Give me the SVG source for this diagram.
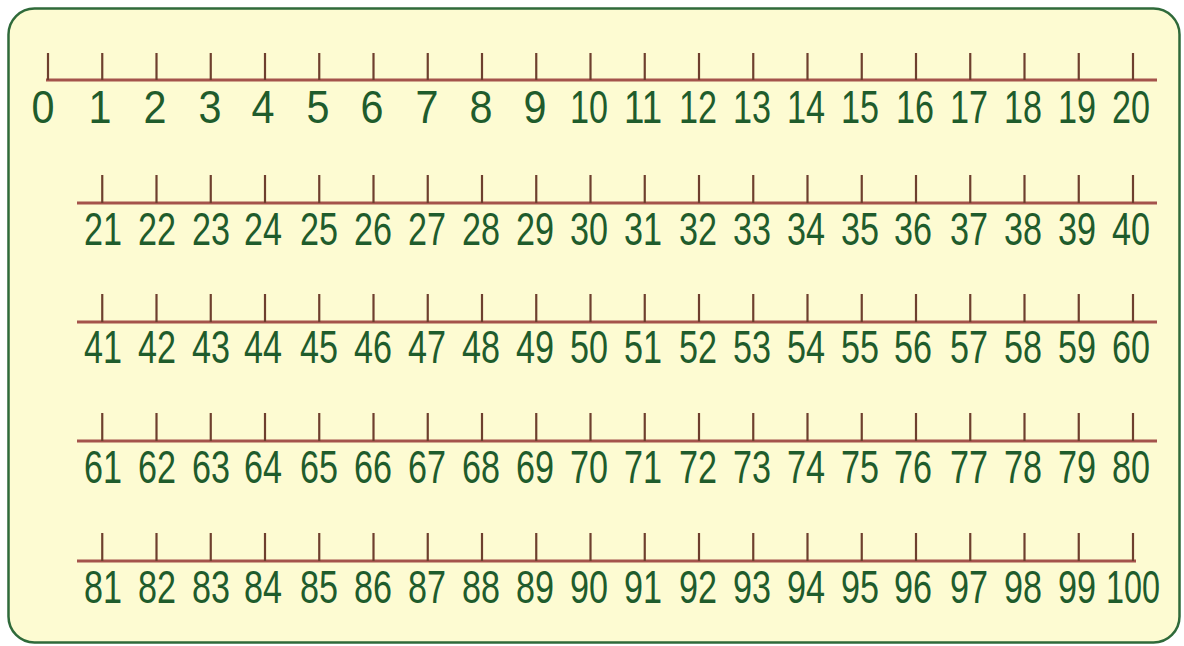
<svg xmlns="http://www.w3.org/2000/svg" width="1184" height="646" viewBox="0 0 1184 646">
<style>
.ax{stroke:#a4534b;stroke-width:3;fill:none}
.tk{stroke:#6e3f2e;stroke-width:2.2}
.n{font-family:"Liberation Sans",Arial,sans-serif;font-size:46px;fill:#1f5c2c;text-anchor:middle}
</style>
<rect x="0" y="0" width="1184" height="646" fill="#ffffff"/>
<rect x="8.5" y="8.5" width="1171" height="634" rx="26" ry="26" fill="#fdfbd2" stroke="#2f6a3a" stroke-width="2.5"/>
<g id="row1">
<line class="ax" x1="46" y1="80" x2="1157" y2="80"/>
<g class="tk">
<line x1="48" y1="53" x2="48" y2="80"/><line x1="102.25" y1="53" x2="102.25" y2="80"/><line x1="156.5" y1="53" x2="156.5" y2="80"/><line x1="210.75" y1="53" x2="210.75" y2="80"/><line x1="265" y1="53" x2="265" y2="80"/><line x1="319.25" y1="53" x2="319.25" y2="80"/><line x1="373.5" y1="53" x2="373.5" y2="80"/><line x1="427.75" y1="53" x2="427.75" y2="80"/><line x1="482" y1="53" x2="482" y2="80"/><line x1="536.25" y1="53" x2="536.25" y2="80"/><line x1="590.5" y1="53" x2="590.5" y2="80"/><line x1="644.75" y1="53" x2="644.75" y2="80"/><line x1="699" y1="53" x2="699" y2="80"/><line x1="753.25" y1="53" x2="753.25" y2="80"/><line x1="807.5" y1="53" x2="807.5" y2="80"/><line x1="861.75" y1="53" x2="861.75" y2="80"/><line x1="916" y1="53" x2="916" y2="80"/><line x1="970.25" y1="53" x2="970.25" y2="80"/><line x1="1024.5" y1="53" x2="1024.5" y2="80"/><line x1="1078.75" y1="53" x2="1078.75" y2="80"/><line x1="1133" y1="53" x2="1133" y2="80"/>
</g>
<g class="n">
<text x="43" y="123" textLength="23" lengthAdjust="spacingAndGlyphs">0</text>
<text x="100" y="123" textLength="23" lengthAdjust="spacingAndGlyphs">1</text>
<text x="155" y="123" textLength="23" lengthAdjust="spacingAndGlyphs">2</text>
<text x="210" y="123" textLength="23" lengthAdjust="spacingAndGlyphs">3</text>
<text x="263" y="123" textLength="23" lengthAdjust="spacingAndGlyphs">4</text>
<text x="318" y="123" textLength="23" lengthAdjust="spacingAndGlyphs">5</text>
<text x="372" y="123" textLength="23" lengthAdjust="spacingAndGlyphs">6</text>
<text x="427" y="123" textLength="23" lengthAdjust="spacingAndGlyphs">7</text>
<text x="481" y="123" textLength="23" lengthAdjust="spacingAndGlyphs">8</text>
<text x="535" y="123" textLength="23" lengthAdjust="spacingAndGlyphs">9</text>
<text x="589" y="123" textLength="38" lengthAdjust="spacingAndGlyphs">10</text>
<text x="643" y="123" textLength="38" lengthAdjust="spacingAndGlyphs">11</text>
<text x="698" y="123" textLength="38" lengthAdjust="spacingAndGlyphs">12</text>
<text x="752" y="123" textLength="38" lengthAdjust="spacingAndGlyphs">13</text>
<text x="806" y="123" textLength="38" lengthAdjust="spacingAndGlyphs">14</text>
<text x="860" y="123" textLength="38" lengthAdjust="spacingAndGlyphs">15</text>
<text x="915" y="123" textLength="38" lengthAdjust="spacingAndGlyphs">16</text>
<text x="969" y="123" textLength="38" lengthAdjust="spacingAndGlyphs">17</text>
<text x="1023" y="123" textLength="38" lengthAdjust="spacingAndGlyphs">18</text>
<text x="1077" y="123" textLength="38" lengthAdjust="spacingAndGlyphs">19</text>
<text x="1131" y="123" textLength="38" lengthAdjust="spacingAndGlyphs">20</text>
</g>
</g>
<g id="row2">
<line class="ax" x1="77" y1="203" x2="1157" y2="203"/>
<g class="tk">
<line x1="102.25" y1="175" x2="102.25" y2="203"/><line x1="156.5" y1="175" x2="156.5" y2="203"/><line x1="210.75" y1="175" x2="210.75" y2="203"/><line x1="265" y1="175" x2="265" y2="203"/><line x1="319.25" y1="175" x2="319.25" y2="203"/><line x1="373.5" y1="175" x2="373.5" y2="203"/><line x1="427.75" y1="175" x2="427.75" y2="203"/><line x1="482" y1="175" x2="482" y2="203"/><line x1="536.25" y1="175" x2="536.25" y2="203"/><line x1="590.5" y1="175" x2="590.5" y2="203"/><line x1="644.75" y1="175" x2="644.75" y2="203"/><line x1="699" y1="175" x2="699" y2="203"/><line x1="753.25" y1="175" x2="753.25" y2="203"/><line x1="807.5" y1="175" x2="807.5" y2="203"/><line x1="861.75" y1="175" x2="861.75" y2="203"/><line x1="916" y1="175" x2="916" y2="203"/><line x1="970.25" y1="175" x2="970.25" y2="203"/><line x1="1024.5" y1="175" x2="1024.5" y2="203"/><line x1="1078.75" y1="175" x2="1078.75" y2="203"/><line x1="1133" y1="175" x2="1133" y2="203"/>
</g>
<g class="n">
<text x="103" y="245" textLength="38" lengthAdjust="spacingAndGlyphs">21</text>
<text x="157" y="245" textLength="38" lengthAdjust="spacingAndGlyphs">22</text>
<text x="211" y="245" textLength="38" lengthAdjust="spacingAndGlyphs">23</text>
<text x="263" y="245" textLength="38" lengthAdjust="spacingAndGlyphs">24</text>
<text x="319" y="245" textLength="38" lengthAdjust="spacingAndGlyphs">25</text>
<text x="373" y="245" textLength="38" lengthAdjust="spacingAndGlyphs">26</text>
<text x="427" y="245" textLength="38" lengthAdjust="spacingAndGlyphs">27</text>
<text x="481" y="245" textLength="38" lengthAdjust="spacingAndGlyphs">28</text>
<text x="535" y="245" textLength="38" lengthAdjust="spacingAndGlyphs">29</text>
<text x="589" y="245" textLength="38" lengthAdjust="spacingAndGlyphs">30</text>
<text x="643" y="245" textLength="38" lengthAdjust="spacingAndGlyphs">31</text>
<text x="698" y="245" textLength="38" lengthAdjust="spacingAndGlyphs">32</text>
<text x="752" y="245" textLength="38" lengthAdjust="spacingAndGlyphs">33</text>
<text x="806" y="245" textLength="38" lengthAdjust="spacingAndGlyphs">34</text>
<text x="860" y="245" textLength="38" lengthAdjust="spacingAndGlyphs">35</text>
<text x="913" y="245" textLength="38" lengthAdjust="spacingAndGlyphs">36</text>
<text x="969" y="245" textLength="38" lengthAdjust="spacingAndGlyphs">37</text>
<text x="1023" y="245" textLength="38" lengthAdjust="spacingAndGlyphs">38</text>
<text x="1077" y="245" textLength="38" lengthAdjust="spacingAndGlyphs">39</text>
<text x="1131" y="245" textLength="38" lengthAdjust="spacingAndGlyphs">40</text>
</g>
</g>
<g id="row3">
<line class="ax" x1="77" y1="322" x2="1157" y2="322"/>
<g class="tk">
<line x1="102.25" y1="294" x2="102.25" y2="322"/><line x1="156.5" y1="294" x2="156.5" y2="322"/><line x1="210.75" y1="294" x2="210.75" y2="322"/><line x1="265" y1="294" x2="265" y2="322"/><line x1="319.25" y1="294" x2="319.25" y2="322"/><line x1="373.5" y1="294" x2="373.5" y2="322"/><line x1="427.75" y1="294" x2="427.75" y2="322"/><line x1="482" y1="294" x2="482" y2="322"/><line x1="536.25" y1="294" x2="536.25" y2="322"/><line x1="590.5" y1="294" x2="590.5" y2="322"/><line x1="644.75" y1="294" x2="644.75" y2="322"/><line x1="699" y1="294" x2="699" y2="322"/><line x1="753.25" y1="294" x2="753.25" y2="322"/><line x1="807.5" y1="294" x2="807.5" y2="322"/><line x1="861.75" y1="294" x2="861.75" y2="322"/><line x1="916" y1="294" x2="916" y2="322"/><line x1="970.25" y1="294" x2="970.25" y2="322"/><line x1="1024.5" y1="294" x2="1024.5" y2="322"/><line x1="1078.75" y1="294" x2="1078.75" y2="322"/><line x1="1133" y1="294" x2="1133" y2="322"/>
</g>
<g class="n">
<text x="103" y="363" textLength="38" lengthAdjust="spacingAndGlyphs">41</text>
<text x="157" y="363" textLength="38" lengthAdjust="spacingAndGlyphs">42</text>
<text x="211" y="363" textLength="38" lengthAdjust="spacingAndGlyphs">43</text>
<text x="263" y="363" textLength="38" lengthAdjust="spacingAndGlyphs">44</text>
<text x="319" y="363" textLength="38" lengthAdjust="spacingAndGlyphs">45</text>
<text x="373" y="363" textLength="38" lengthAdjust="spacingAndGlyphs">46</text>
<text x="427" y="363" textLength="38" lengthAdjust="spacingAndGlyphs">47</text>
<text x="481" y="363" textLength="38" lengthAdjust="spacingAndGlyphs">48</text>
<text x="535" y="363" textLength="38" lengthAdjust="spacingAndGlyphs">49</text>
<text x="589" y="363" textLength="38" lengthAdjust="spacingAndGlyphs">50</text>
<text x="643" y="363" textLength="38" lengthAdjust="spacingAndGlyphs">51</text>
<text x="698" y="363" textLength="38" lengthAdjust="spacingAndGlyphs">52</text>
<text x="752" y="363" textLength="38" lengthAdjust="spacingAndGlyphs">53</text>
<text x="806" y="363" textLength="38" lengthAdjust="spacingAndGlyphs">54</text>
<text x="860" y="363" textLength="38" lengthAdjust="spacingAndGlyphs">55</text>
<text x="913" y="363" textLength="38" lengthAdjust="spacingAndGlyphs">56</text>
<text x="969" y="363" textLength="38" lengthAdjust="spacingAndGlyphs">57</text>
<text x="1023" y="363" textLength="38" lengthAdjust="spacingAndGlyphs">58</text>
<text x="1077" y="363" textLength="38" lengthAdjust="spacingAndGlyphs">59</text>
<text x="1131" y="363" textLength="38" lengthAdjust="spacingAndGlyphs">60</text>
</g>
</g>
<g id="row4">
<line class="ax" x1="77" y1="441" x2="1157" y2="441"/>
<g class="tk">
<line x1="102.25" y1="413" x2="102.25" y2="441"/><line x1="156.5" y1="413" x2="156.5" y2="441"/><line x1="210.75" y1="413" x2="210.75" y2="441"/><line x1="265" y1="413" x2="265" y2="441"/><line x1="319.25" y1="413" x2="319.25" y2="441"/><line x1="373.5" y1="413" x2="373.5" y2="441"/><line x1="427.75" y1="413" x2="427.75" y2="441"/><line x1="482" y1="413" x2="482" y2="441"/><line x1="536.25" y1="413" x2="536.25" y2="441"/><line x1="590.5" y1="413" x2="590.5" y2="441"/><line x1="644.75" y1="413" x2="644.75" y2="441"/><line x1="699" y1="413" x2="699" y2="441"/><line x1="753.25" y1="413" x2="753.25" y2="441"/><line x1="807.5" y1="413" x2="807.5" y2="441"/><line x1="861.75" y1="413" x2="861.75" y2="441"/><line x1="916" y1="413" x2="916" y2="441"/><line x1="970.25" y1="413" x2="970.25" y2="441"/><line x1="1024.5" y1="413" x2="1024.5" y2="441"/><line x1="1078.75" y1="413" x2="1078.75" y2="441"/><line x1="1133" y1="413" x2="1133" y2="441"/>
</g>
<g class="n">
<text x="103" y="483" textLength="38" lengthAdjust="spacingAndGlyphs">61</text>
<text x="157" y="483" textLength="38" lengthAdjust="spacingAndGlyphs">62</text>
<text x="211" y="483" textLength="38" lengthAdjust="spacingAndGlyphs">63</text>
<text x="263" y="483" textLength="38" lengthAdjust="spacingAndGlyphs">64</text>
<text x="319" y="483" textLength="38" lengthAdjust="spacingAndGlyphs">65</text>
<text x="373" y="483" textLength="38" lengthAdjust="spacingAndGlyphs">66</text>
<text x="427" y="483" textLength="38" lengthAdjust="spacingAndGlyphs">67</text>
<text x="481" y="483" textLength="38" lengthAdjust="spacingAndGlyphs">68</text>
<text x="535" y="483" textLength="38" lengthAdjust="spacingAndGlyphs">69</text>
<text x="589" y="483" textLength="38" lengthAdjust="spacingAndGlyphs">70</text>
<text x="643" y="483" textLength="38" lengthAdjust="spacingAndGlyphs">71</text>
<text x="698" y="483" textLength="38" lengthAdjust="spacingAndGlyphs">72</text>
<text x="752" y="483" textLength="38" lengthAdjust="spacingAndGlyphs">73</text>
<text x="806" y="483" textLength="38" lengthAdjust="spacingAndGlyphs">74</text>
<text x="860" y="483" textLength="38" lengthAdjust="spacingAndGlyphs">75</text>
<text x="913" y="483" textLength="38" lengthAdjust="spacingAndGlyphs">76</text>
<text x="969" y="483" textLength="38" lengthAdjust="spacingAndGlyphs">77</text>
<text x="1023" y="483" textLength="38" lengthAdjust="spacingAndGlyphs">78</text>
<text x="1077" y="483" textLength="38" lengthAdjust="spacingAndGlyphs">79</text>
<text x="1131" y="483" textLength="38" lengthAdjust="spacingAndGlyphs">80</text>
</g>
</g>
<g id="row5">
<line class="ax" x1="77" y1="561" x2="1136" y2="561"/>
<g class="tk">
<line x1="102.25" y1="533" x2="102.25" y2="561"/><line x1="156.5" y1="533" x2="156.5" y2="561"/><line x1="210.75" y1="533" x2="210.75" y2="561"/><line x1="265" y1="533" x2="265" y2="561"/><line x1="319.25" y1="533" x2="319.25" y2="561"/><line x1="373.5" y1="533" x2="373.5" y2="561"/><line x1="427.75" y1="533" x2="427.75" y2="561"/><line x1="482" y1="533" x2="482" y2="561"/><line x1="536.25" y1="533" x2="536.25" y2="561"/><line x1="590.5" y1="533" x2="590.5" y2="561"/><line x1="644.75" y1="533" x2="644.75" y2="561"/><line x1="699" y1="533" x2="699" y2="561"/><line x1="753.25" y1="533" x2="753.25" y2="561"/><line x1="807.5" y1="533" x2="807.5" y2="561"/><line x1="861.75" y1="533" x2="861.75" y2="561"/><line x1="916" y1="533" x2="916" y2="561"/><line x1="970.25" y1="533" x2="970.25" y2="561"/><line x1="1024.5" y1="533" x2="1024.5" y2="561"/><line x1="1078.75" y1="533" x2="1078.75" y2="561"/><line x1="1133" y1="533" x2="1133" y2="561"/>
</g>
<g class="n">
<text x="103" y="603" textLength="38" lengthAdjust="spacingAndGlyphs">81</text>
<text x="157" y="603" textLength="38" lengthAdjust="spacingAndGlyphs">82</text>
<text x="211" y="603" textLength="38" lengthAdjust="spacingAndGlyphs">83</text>
<text x="263" y="603" textLength="38" lengthAdjust="spacingAndGlyphs">84</text>
<text x="319" y="603" textLength="38" lengthAdjust="spacingAndGlyphs">85</text>
<text x="373" y="603" textLength="38" lengthAdjust="spacingAndGlyphs">86</text>
<text x="427" y="603" textLength="38" lengthAdjust="spacingAndGlyphs">87</text>
<text x="481" y="603" textLength="38" lengthAdjust="spacingAndGlyphs">88</text>
<text x="535" y="603" textLength="38" lengthAdjust="spacingAndGlyphs">89</text>
<text x="589" y="603" textLength="38" lengthAdjust="spacingAndGlyphs">90</text>
<text x="643" y="603" textLength="38" lengthAdjust="spacingAndGlyphs">91</text>
<text x="698" y="603" textLength="38" lengthAdjust="spacingAndGlyphs">92</text>
<text x="752" y="603" textLength="38" lengthAdjust="spacingAndGlyphs">93</text>
<text x="806" y="603" textLength="38" lengthAdjust="spacingAndGlyphs">94</text>
<text x="860" y="603" textLength="38" lengthAdjust="spacingAndGlyphs">95</text>
<text x="913" y="603" textLength="38" lengthAdjust="spacingAndGlyphs">96</text>
<text x="969" y="603" textLength="38" lengthAdjust="spacingAndGlyphs">97</text>
<text x="1023" y="603" textLength="38" lengthAdjust="spacingAndGlyphs">98</text>
<text x="1077" y="603" textLength="38" lengthAdjust="spacingAndGlyphs">99</text>
<text x="1133" y="603" textLength="54" lengthAdjust="spacingAndGlyphs">100</text>
</g>
</g>
</svg>
